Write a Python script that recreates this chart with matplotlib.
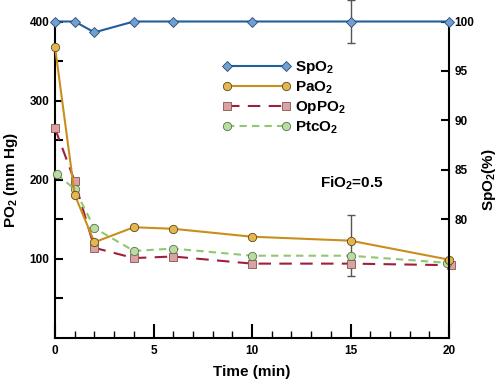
import matplotlib
matplotlib.use("Agg")
import matplotlib.pyplot as plt
from matplotlib.ticker import MultipleLocator, FixedLocator

plt.rcParams['font.family'] = ['Liberation Sans', 'DejaVu Sans']
plt.rcParams['font.weight'] = 'bold'
plt.rcParams['mathtext.fontset'] = 'custom'
plt.rcParams['mathtext.rm'] = 'Liberation Sans:bold'
plt.rcParams['mathtext.bf'] = 'Liberation Sans:bold'
plt.rcParams['mathtext.it'] = 'Liberation Sans:bold'
plt.rcParams['mathtext.default'] = 'rm'

# Data
time = [0, 1, 2, 4, 6, 10, 15, 20]
spo2 = [100, 100, 98.9, 100, 100, 100, 100, 100]
pao2 = [368, 181, 121, 140, 138, 128, 123, 99]
time_op = [0, 1, 2, 4, 6, 10, 15, 20.1]
oppo2 = [265, 198, 114, 101, 103, 94, 94, 92]
time_ptc = [0.1, 1, 2, 4, 6, 10, 15, 19.9]
ptco2 = [207, 188, 139, 110, 113, 104, 104, 95]
spo2_err_t = 15
spo2_err = 2.2
pao2_err_t = 15
pao2_err_low = 45
pao2_err_high = 33

fig = plt.figure(figsize=(5.0, 3.81), dpi=100)
ax = fig.add_axes([55/500, 1-338/381, (449-55)/500, (338-21.5)/381])
ax2 = ax.twinx()

c_sp_line, c_sp_face, c_sp_edge = '#1f5f9a', '#6f9fd3', '#2a4a70'
c_pa_line, c_pa_face, c_pa_edge = '#c98e1b', '#e5b550', '#5a4a20'
c_op_line, c_op_face, c_op_edge = '#a0203a', '#d9a3a3', '#8a5050'
c_pt_line, c_pt_face, c_pt_edge = '#8fc870', '#b9dda0', '#5a7050'

ax.errorbar([pao2_err_t], [pao2[time.index(pao2_err_t)]],
            yerr=[[pao2_err_low], [pao2_err_high]], fmt='none',
            ecolor='#555555', elinewidth=1, capsize=3, capthick=1, zorder=2)

l_op, = ax.plot(time_op, oppo2, color=c_op_line, lw=1.5, dashes=(6, 4),
                marker='s', ms=5.5, mfc=c_op_face, mec=c_op_edge, mew=0.6,
                clip_on=False, zorder=3)
l_pt, = ax.plot(time_ptc, ptco2, color=c_pt_line, lw=1.5, dashes=(3.5, 2.5),
                marker='o', ms=6, mfc=c_pt_face, mec=c_pt_edge, mew=0.6,
                clip_on=False, zorder=4)
l_pa, = ax.plot(time, pao2, color=c_pa_line, lw=1.5,
                marker='o', ms=6, mfc=c_pa_face, mec=c_pa_edge, mew=0.6,
                clip_on=False, zorder=5)

ax2.errorbar([spo2_err_t], [100], yerr=spo2_err, fmt='none',
             ecolor='#555555', elinewidth=1, capsize=3, capthick=1,
             clip_on=False, zorder=2)
l_sp, = ax2.plot(time, spo2, color=c_sp_line, lw=1.5,
                 marker='D', ms=5.5, mfc=c_sp_face, mec=c_sp_edge, mew=0.6,
                 clip_on=False, zorder=5)

ax.set_xlim(0, 20)
ax.set_ylim(0, 400)
ax2.set_ylim(68, 100)

for a in (ax, ax2):
    a.spines['top'].set_visible(False)
    for s in a.spines.values():
        s.set_linewidth(1.5)
ax.spines['right'].set_visible(False)
ax2.spines['left'].set_visible(False)
ax2.spines['bottom'].set_visible(False)

ax.xaxis.set_major_locator(MultipleLocator(5))
ax.xaxis.set_minor_locator(MultipleLocator(1))
ax.yaxis.set_major_locator(FixedLocator([100, 200, 300, 400]))
ax.yaxis.set_minor_locator(FixedLocator([50, 150, 250, 350]))
ax2.yaxis.set_major_locator(FixedLocator([80, 85, 90, 95, 100]))

ax.tick_params(axis='x', which='major', direction='in', length=10, width=1.5,
               labelsize=8.5, pad=5)
ax.tick_params(axis='x', which='minor', direction='in', length=5, width=1)
ax.tick_params(axis='y', which='major', direction='in', length=6, width=1.5,
               labelsize=8.5, pad=4)
ax.tick_params(axis='y', which='minor', direction='in', length=6, width=1.5)
ax2.tick_params(axis='y', which='major', direction='in', length=6, width=1.5,
                labelsize=8.5, pad=4)
for lab in ax.get_xticklabels() + ax.get_yticklabels() + ax2.get_yticklabels():
    lab.set_fontweight('bold')

ax.set_xlabel('Time (min)', fontsize=11, fontweight='bold', labelpad=6)
ax.set_ylabel('PO$_2$ (mm Hg)', fontsize=11, fontweight='bold', labelpad=7)
ax2.set_ylabel('SpO$_2$(%)', fontsize=11, fontweight='bold', labelpad=4)

ax.text(13.45, 196, 'FiO$_2$=0.5', fontsize=11, fontweight='bold',
        ha='left', va='center')

leg = fig.legend([l_sp, l_pa, l_op, l_pt],
                 ['SpO$_2$', 'PaO$_2$', 'OpPO$_2$', 'PtcO$_2$'],
                 loc='upper left', bbox_to_anchor=(222/500, 1-59/381),
                 frameon=False, fontsize=11, numpoints=2, handlelength=4.5,
                 handletextpad=0.3, labelspacing=0.22, borderpad=0,
                 borderaxespad=0)

fig.savefig('out.png', dpi=100)
